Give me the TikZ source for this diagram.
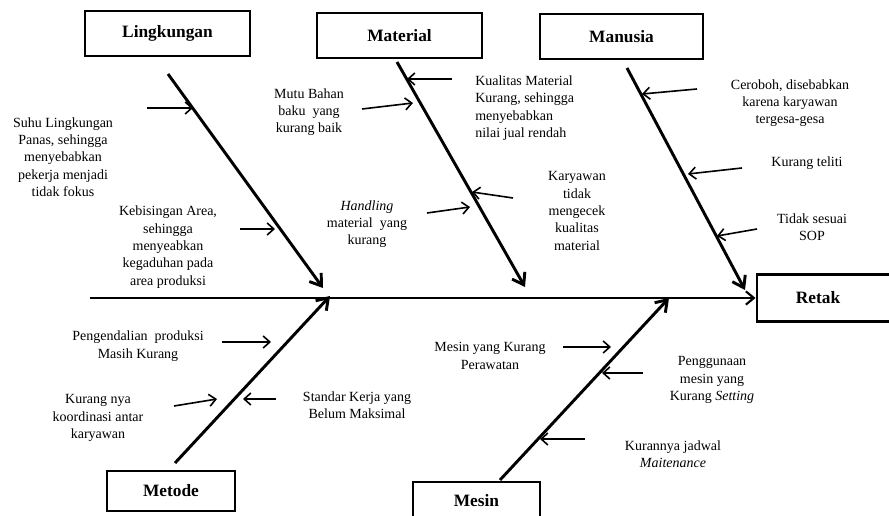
\documentclass[tikz,border=0pt]{standalone}
\usepackage{fontspec}
\setmainfont{Liberation Serif}
\usetikzlibrary{arrows.meta}

\begin{document}
\begin{tikzpicture}[x=0.75pt,y=-0.75pt,
    kategori/.style={draw,line width=2.2pt,inner sep=0pt,font=\fontsize{13}{15}\selectfont\bfseries},
    sebab/.style={align=center,inner sep=0pt,font=\fontsize{10.5}{13}\selectfont},
    tulang/.style={line width=2.2pt,-{Straight Barb[length=8pt,width=11pt]}},
    panah/.style={line width=1.2pt,-{Straight Barb[length=5pt,width=9pt]}}]
      \useasboundingbox (0,0) rectangle (889,516);
      % kotak kategori
      \node[kategori,minimum width=123.75pt,minimum height=33.75pt] (lingkungan) at (167.5,33.5) {Lingkungan};
      \node[kategori,minimum width=123.75pt,minimum height=33.75pt] (material) at (399.5,35.5) {Material};
      \node[kategori,minimum width=122.25pt,minimum height=33.75pt] (manusia) at (621.5,36.5) {Manusia};
      \node[kategori,minimum width=96pt,minimum height=30pt] (metode) at (171,491) {Metode};
      \node[kategori,minimum width=95.25pt,minimum height=28.5pt] (mesin) at (476.5,501) {Mesin};
      \node[kategori,minimum width=103.5pt,minimum height=35.25pt] (retak) at (826,298) {Retak\hspace*{12pt}};
      % tulang utama
      \coordinate (ekor) at (90,298);
      \coordinate (lkA) at (168,74);  \coordinate (lkB) at (323,288);
      \coordinate (maA) at (397,62);  \coordinate (maB) at (525,287);
      \coordinate (mnA) at (627,68);  \coordinate (mnB) at (745,290);
      \coordinate (meA) at (175,463); \coordinate (meB) at (330,296);
      \coordinate (msA) at (500,480); \coordinate (msB) at (669,298);
      \draw[line width=1.6pt,-{Straight Barb[length=6pt,width=10pt]}] (ekor) -- (retak.west);
      \draw[tulang] (lkA) -- (lkB);
      \draw[tulang] (maA) -- (maB);
      \draw[tulang] (mnA) -- (mnB);
      \draw[tulang] (meA) -- (meB);
      \draw[tulang] (msA) -- (msB);
      % sebab - lingkungan
      \node[sebab] (suhu) at (63,157) {Suhu Lingkungan\\Panas, sehingga\\menyebabkan\\pekerja menjadi\\tidak fokus};
      \node[sebab] (bising) at (168,247) {Kebisingan Area,\\sehingga\\menyeabkan\\kegaduhan pada\\area produksi};
      \coordinate (suhuA) at (147,108);   \coordinate (suhuB) at (193,108);
      \coordinate (bisingA) at (240,229); \coordinate (bisingB) at (275,229);
      \draw[panah] (suhuA) -- (suhuB);
      \draw[panah] (bisingA) -- (bisingB);
      % sebab - material
      \node[sebab] (mutu) at (309,112) {Mutu Bahan\\baku\ \ yang\\kurang baik};
      \node[sebab,align=left,anchor=west] (kualitas) at (475,108) {Kualitas Material\\Kurang, sehingga\\menyebabkan\\nilai jual rendah};
      \node[sebab] (handling) at (367,224) {\textit{Handling}\\material\ \ yang\\kurang};
      \node[sebab] (cek) at (577,211) {Karyawan\\tidak\\mengecek\\kualitas\\material};
      \coordinate (mutuA) at (362,109);     \coordinate (mutuB) at (413,103);
      \coordinate (kualitasA) at (452,79);  \coordinate (kualitasB) at (407,79);
      \coordinate (handlingA) at (427,213); \coordinate (handlingB) at (470,207);
      \coordinate (cekA) at (513,198);      \coordinate (cekB) at (472,192);
      \draw[panah] (mutuA) -- (mutuB);
      \draw[panah] (kualitasA) -- (kualitasB);
      \draw[panah] (handlingA) -- (handlingB);
      \draw[panah] (cekA) -- (cekB);
      % sebab - manusia
      \node[sebab] (ceroboh) at (790,103) {Ceroboh, disebabkan\\karena karyawan\\tergesa-gesa};
      \node[sebab] (teliti) at (807,163) {Kurang teliti};
      \node[sebab] (sop) at (812,227) {Tidak sesuai\\SOP};
      \coordinate (cerobohA) at (697,89); \coordinate (cerobohB) at (642,94);
      \coordinate (telitiA) at (742,168); \coordinate (telitiB) at (688,174);
      \coordinate (sopA) at (757,229);    \coordinate (sopB) at (717,236);
      \draw[panah] (cerobohA) -- (cerobohB);
      \draw[panah] (telitiA) -- (telitiB);
      \draw[panah] (sopA) -- (sopB);
      % sebab - metode
      \node[sebab] (kendali) at (138,346) {Pengendalian\ \ produksi\\Masih Kurang};
      \node[sebab] (koordinasi) at (98,418) {Kurang nya\\koordinasi antar\\karyawan};
      \node[sebab] (standar) at (357,405) {Standar Kerja yang\\Belum Maksimal};
      \coordinate (kendaliA) at (222,342);    \coordinate (kendaliB) at (271,342);
      \coordinate (koordinasiA) at (174,406); \coordinate (koordinasiB) at (217,399);
      \coordinate (standarA) at (276,399);    \coordinate (standarB) at (243,399);
      \draw[panah] (kendaliA) -- (kendaliB);
      \draw[panah] (koordinasiA) -- (koordinasiB);
      \draw[panah] (standarA) -- (standarB);
      % sebab - mesin
      \node[sebab] (rawat) at (490,356) {Mesin yang Kurang\\Perawatan};
      \node[sebab] (setting) at (712,380) {Penggunaan\\mesin yang\\Kurang \textit{Setting}};
      \node[sebab] (jadwal) at (673,454) {Kurannya jadwal\\\textit{Maitenance}};
      \coordinate (rawatA) at (563,347);   \coordinate (rawatB) at (611,347);
      \coordinate (settingA) at (643,373); \coordinate (settingB) at (602,373);
      \coordinate (jadwalA) at (585,439);  \coordinate (jadwalB) at (540,439);
      \draw[panah] (rawatA) -- (rawatB);
      \draw[panah] (settingA) -- (settingB);
      \draw[panah] (jadwalA) -- (jadwalB);
\end{tikzpicture}
\end{document}
